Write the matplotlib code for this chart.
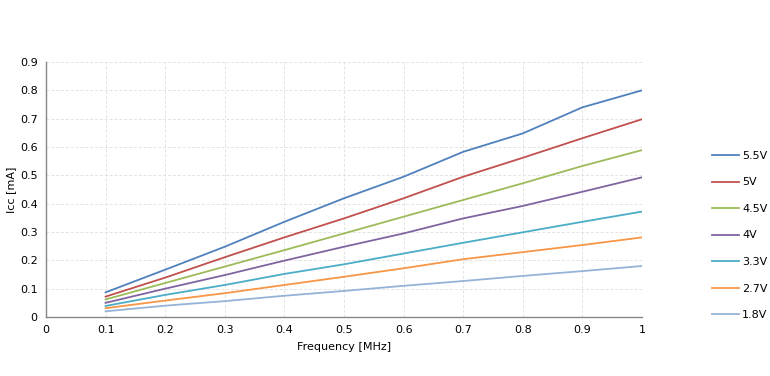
import matplotlib.pyplot as plt

# frequency sweep [MHz] and supply current [mA] per supply voltage
freq = [0.1, 0.2, 0.3, 0.4, 0.5, 0.6, 0.7, 0.8, 0.9, 1.0]
icc_5v5 = [0.087, 0.167, 0.248, 0.336, 0.419, 0.495, 0.583, 0.648, 0.740, 0.800]
icc_5v = [0.072, 0.139, 0.211, 0.281, 0.348, 0.419, 0.495, 0.562, 0.631, 0.698]
icc_4v5 = [0.062, 0.120, 0.178, 0.236, 0.295, 0.354, 0.413, 0.472, 0.533, 0.589]
icc_4v = [0.050, 0.100, 0.148, 0.199, 0.248, 0.295, 0.348, 0.392, 0.442, 0.493]
icc_3v3 = [0.039, 0.078, 0.113, 0.152, 0.186, 0.224, 0.262, 0.299, 0.336, 0.372]
icc_2v7 = [0.031, 0.058, 0.084, 0.113, 0.142, 0.172, 0.204, 0.229, 0.254, 0.281]
icc_1v8 = [0.020, 0.040, 0.056, 0.075, 0.092, 0.110, 0.127, 0.145, 0.162, 0.180]

labels = ['5.5V', '5V', '4.5V', '4V', '3.3V', '2.7V', '1.8V']
series = [icc_5v5, icc_5v, icc_4v5, icc_4v, icc_3v3, icc_2v7, icc_1v8]
colors = ['#4F81BD', '#C0504D', '#9BBB59', '#8064A2', '#4BACC6', '#F79646', '#95B3D7']

plt.rcParams['font.family'] = ['DejaVu Sans']

fig = plt.figure(figsize=(7.7, 3.76), dpi=100)
ax = fig.add_axes([46 / 770, 59 / 376, 596 / 770, 255 / 376])

for vals, lab, col in zip(series, labels, colors):
    ax.plot(freq, vals, color=col, linewidth=1.3, label=lab)

ax.set_xlim(0, 1)
ax.set_ylim(0, 0.9)
ax.set_xticks([i / 10 for i in range(11)])
ax.set_xticklabels(['0', '0.1', '0.2', '0.3', '0.4', '0.5', '0.6', '0.7', '0.8', '0.9', '1'])
ax.set_yticks([i / 10 for i in range(10)])
ax.set_yticklabels(['0', '0.1', '0.2', '0.3', '0.4', '0.5', '0.6', '0.7', '0.8', '0.9'])
ax.tick_params(length=0, labelsize=8, pad=6, colors='#000000')
ax.grid(True, color='#E3E3E3', linestyle=(0, (3, 2)), linewidth=0.7)
ax.set_axisbelow(True)
for side in ['top', 'right']:
    ax.spines[side].set_visible(False)
for side in ['left', 'bottom']:
    ax.spines[side].set_color('#868686')
    ax.spines[side].set_linewidth(1.0)

ax.set_xlabel('Frequency [MHz]', fontsize=8, labelpad=5)
ax.set_ylabel('Icc [mA]', fontsize=8, labelpad=3)

# legend sits at the right edge, tight like the original
fig.legend(loc='center left', bbox_to_anchor=(706 / 770, 1 - 235.5 / 376),
           frameon=False, fontsize=8, borderpad=0, handlelength=2.5,
           handletextpad=0.25, labelspacing=1.49)

fig.savefig('out.png', dpi=100)
